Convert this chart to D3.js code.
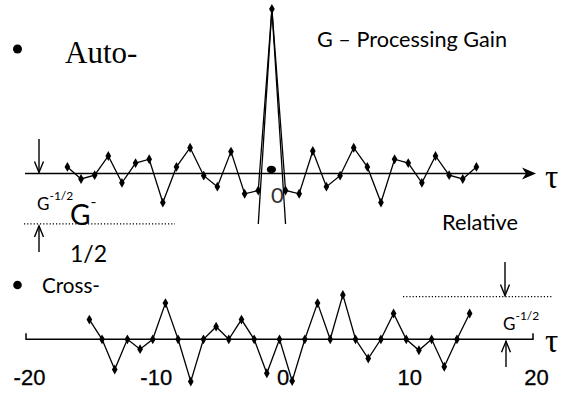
<!DOCTYPE html>
<html>
<head>
<meta charset="utf-8">
<script src="https://cdn.jsdelivr.net/npm/d3@7"></script>
<style>
  html, body { margin: 0; padding: 0; background: #fff; }
  svg { display: block; }
</style>
</head>
<body>
<div id="chart"></div>
<script>
'use strict';

// Auto-correlation, lags -15..15 (peak = G)
const autoLags = d3.range(-15, 16);
const autoVals = [1.2, -1.0, -0.3, 3.2, -1.7, 1.9, 2.6, -5.3, 1.2, 4.7, -0.4, -2.4, 4.0, -3.7, -3.1,
                  30,
                  -3.1, -3.7, 4.1, -2.4, -0.4, 4.7, 1.2, -5.3, 2.6, 1.9, -1.7, 3.2, -0.3, -1.0, 1.2];

// Cross-correlation, lags -15..15
const crossLags = d3.range(-15, 16);
const crossVals = [3.6, 0, -5.5, 0, -1.8, 0, 6.6, 0, -7.7, 0, 2.3, 0, 3.6, 0, -6.2, 0,
                   -7.6, 0, 6.6, 0, 8.1, 0, -3.5, 0, 4.7, 0, -2.0, 0, -5.0, 0, 4.7];

// Relative level G^-1/2 shown by the dotted lines
const autoLevel = -9.2;
const crossLevel = 7.8;

const tickVals = [-20, -10, 0, 10, 20];

const W = 561, H = 394;
const sans = "Lato, 'Open Sans', sans-serif";
const serif = "'Liberation Serif', 'DejaVu Serif', serif";

const svg = d3.select('#chart').append('svg')
    .attr('width', W)
    .attr('height', H)
    .attr('viewBox', `0 0 ${W} ${H}`);

// scales
const xTop = d3.scaleLinear().domain([-15, 15]).range([67.4, 476.4]);
const yTop = d3.scaleLinear().domain([0, 30]).range([173.5, 9]);
const xBot = d3.scaleLinear().domain([-20, 20]).range([26, 533]);
const yBot = d3.scaleLinear().domain([0, 30]).range([339.3, 174.8]);

const diamond = d3.symbol().type(d3.symbolDiamond).size(28);

/* ---------------- top: auto-correlation ---------------- */

// axis with filled arrow head
svg.append('line')
    .attr('x1', 25).attr('x2', 527)
    .attr('y1', yTop(0)).attr('y2', yTop(0))
    .attr('stroke', '#000').attr('stroke-width', 1.6);
svg.append('path')
    .attr('d', `M536,${yTop(0)} L522,${yTop(0) - 6} L526,${yTop(0)} L522,${yTop(0) + 6} Z`)
    .attr('fill', '#000');

// extended peak legs down to the dotted level
svg.append('g').selectAll('line')
    .data([-1, 1])
    .join('line')
    .attr('x1', xTop(0)).attr('y1', yTop(30))
    .attr('x2', d => xTop(d)).attr('y2', yTop(autoLevel))
    .attr('stroke', '#000').attr('stroke-width', 1.3);

const autoData = autoLags.map((l, i) => ({ lag: l, v: autoVals[i] }));

svg.append('path')
    .datum(autoData)
    .attr('fill', 'none')
    .attr('stroke', '#000')
    .attr('stroke-width', 1.3)
    .attr('d', d3.line().x(d => xTop(d.lag)).y(d => yTop(d.v)));

svg.append('g').selectAll('path')
    .data(autoData)
    .join('path')
    .attr('d', diamond)
    .attr('transform', d => `translate(${xTop(d.lag)},${yTop(d.v)})`)
    .attr('fill', '#000');

// blob at origin + "0"
svg.append('ellipse')
    .attr('cx', xTop(0) - 0.5).attr('cy', yTop(0) - 4)
    .attr('rx', 4.6).attr('ry', 3.8)
    .attr('fill', '#000');
svg.append('text')
    .attr('x', 271).attr('y', 203)
    .attr('font-family', sans).attr('font-size', 22)
    .attr('fill', '#333')
    .text('0');

// dotted level, left
svg.append('line')
    .attr('x1', 24).attr('x2', 175)
    .attr('y1', yTop(autoLevel)).attr('y2', yTop(autoLevel))
    .attr('stroke', '#000').attr('stroke-width', 1.2)
    .attr('stroke-dasharray', '1.2,2');

/* ---------------- bottom: cross-correlation ---------------- */

const crossData = crossLags.map((l, i) => ({ lag: l, v: crossVals[i] }));

// baseline with end ticks
svg.append('path')
    .attr('d', `M${xBot(-20)},${yBot(0) - 6} V${yBot(0)} H${xBot(20)} V${yBot(0) - 6}`)
    .attr('fill', 'none')
    .attr('stroke', '#000').attr('stroke-width', 1.5);

svg.append('path')
    .datum(crossData)
    .attr('fill', 'none')
    .attr('stroke', '#000')
    .attr('stroke-width', 1.3)
    .attr('d', d3.line().x(d => xBot(d.lag)).y(d => yBot(d.v)));

svg.append('g').selectAll('path')
    .data(crossData)
    .join('path')
    .attr('d', diamond)
    .attr('transform', d => `translate(${xBot(d.lag)},${yBot(d.v)})`)
    .attr('fill', '#000');

// tick labels
const ax = svg.append('g')
    .attr('transform', `translate(3,${yBot(0)})`)
    .call(d3.axisBottom(xBot).tickValues(tickVals).tickSize(0).tickFormat(d3.format('d')));
ax.select('.domain').remove();
ax.selectAll('text')
    .attr('y', 46)
    .attr('dy', 0)
    .attr('font-family', "'Liberation Sans', Arial, sans-serif")
    .attr('font-size', 22)
    .attr('fill', '#000')
    .attr('stroke', '#000').attr('stroke-width', 0.3)
    .text(d => d < 0 ? '-' + Math.abs(d) : d);

// dotted level, right
svg.append('line')
    .attr('x1', 403).attr('x2', 553)
    .attr('y1', yBot(crossLevel)).attr('y2', yBot(crossLevel))
    .attr('stroke', '#000').attr('stroke-width', 1.2)
    .attr('stroke-dasharray', '1.2,2');

/* ---------------- annotations ---------------- */

function vArrow(x, y0, y1) {
    const dir = y1 > y0 ? 1 : -1;
    const g = svg.append('g')
        .attr('fill', 'none').attr('stroke', '#000').attr('stroke-width', 1.4);
    g.append('line').attr('x1', x).attr('x2', x).attr('y1', y0).attr('y2', y1);
    g.append('path')
        .attr('d', `M${x - 4.5},${y1 - dir * 11} L${x},${y1} L${x + 4.5},${y1 - dir * 11}`);
}
vArrow(39, 139, yTop(0) - 1);
vArrow(39, 252, yTop(autoLevel) + 2);
vArrow(505, 262, yBot(crossLevel) - 1);
vArrow(506, 367, yBot(0) + 2);

// τ labels
[yTop(0) + 14, yBot(0) + 13].forEach(y => {
    svg.append('text')
        .attr('x', 545).attr('y', y)
        .attr('font-family', serif).attr('font-size', 33)
        .attr('fill', '#000')
        .text('τ');
});

// bullets
svg.append('circle').attr('cx', 17.5).attr('cy', 49).attr('r', 4.5).attr('fill', '#000');
svg.append('circle').attr('cx', 17.5).attr('cy', 285).attr('r', 4.3).attr('fill', '#000');

svg.append('text')
    .attr('x', 65).attr('y', 63)
    .attr('font-family', serif).attr('font-size', 31)
    .attr('fill', '#000')
    .text('Auto-');

svg.append('text')
    .attr('x', 317).attr('y', 47)
    .attr('font-family', sans).attr('font-size', 21)
    .attr('textLength', 190).attr('lengthAdjust', 'spacingAndGlyphs')
    .attr('fill', '#000')
    .text('G – Processing Gain');

svg.append('text')
    .attr('x', 42).attr('y', 293)
    .attr('font-family', sans).attr('font-size', 21)
    .attr('textLength', 58).attr('lengthAdjust', 'spacingAndGlyphs')
    .attr('fill', '#000')
    .text('Cross-');

svg.append('text')
    .attr('x', 442).attr('y', 230)
    .attr('font-family', sans).attr('font-size', 21)
    .attr('textLength', 76).attr('lengthAdjust', 'spacingAndGlyphs')
    .attr('fill', '#000')
    .text('Relative');

// G^-1/2 labels
function gLabel(x, y) {
    const t = svg.append('text')
        .attr('x', x).attr('y', y)
        .attr('font-family', sans).attr('font-size', 17)
        .attr('fill', '#000');
    t.append('tspan').text('G');
    t.append('tspan').attr('font-size', 12).attr('dy', -10).text('-1/2');
}
gLabel(37, 210);
gLabel(503, 330);

// large broken "G- 1/2"
const big = svg.append('text')
    .attr('x', 70).attr('y', 225)
    .attr('font-family', sans).attr('font-size', 28)
    .attr('fill', '#000');
big.append('tspan').text('G');
big.append('tspan').attr('font-size', 16).attr('dy', -18).text('-');

svg.append('text')
    .attr('x', 70).attr('y', 262)
    .attr('font-family', sans).attr('font-size', 23)
    .attr('fill', '#000')
    .text('1/2');
</script>
</body>
</html>
